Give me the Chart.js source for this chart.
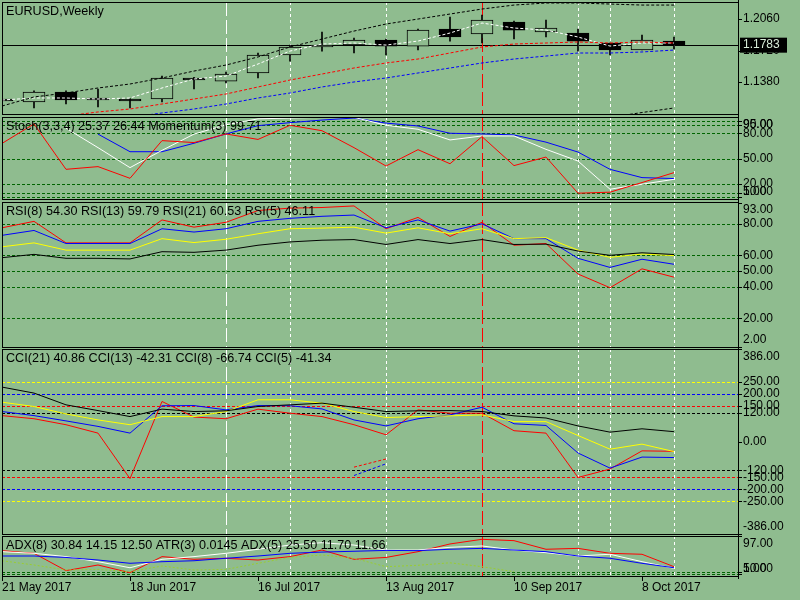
<!DOCTYPE html>
<html>
<head>
<meta charset="utf-8">
<title>EURUSD, Weekly</title>
<script src="https://cdn.jsdelivr.net/npm/chart.js@4.4.0/dist/chart.umd.min.js"></script>
<style>
  body { margin: 0; background: #8fbc8f; width: 800px; height: 600px; overflow: hidden; position: relative; }
  canvas { position: absolute; left: 0; }
</style>
</head>
<body>
<canvas id="mainChart" width="800" height="116" style="top:0px"></canvas>
<canvas id="stochChart" width="800" height="84" style="top:116px"></canvas>
<canvas id="rsiChart" width="800" height="148" style="top:200px"></canvas>
<canvas id="cciChart" width="800" height="187" style="top:348px"></canvas>
<canvas id="adxChart" width="800" height="65" style="top:535px"></canvas>
<script>
const BG = '#8fbc8f';
const FONT = '12px "Liberation Sans", Arial, sans-serif';
const TITLE_FONT = '12.6px "Liberation Sans", Arial, sans-serif';

// weekly bars (last two weeks are empty space on the right)
const weeks = ['21 May 2017', '28 May 2017', '4 Jun 2017', '11 Jun 2017', '18 Jun 2017', '25 Jun 2017',
  '2 Jul 2017', '9 Jul 2017', '16 Jul 2017', '23 Jul 2017', '30 Jul 2017', '6 Aug 2017', '13 Aug 2017',
  '20 Aug 2017', '27 Aug 2017', '3 Sep 2017', '10 Sep 2017', '17 Sep 2017', '24 Sep 2017', '1 Oct 2017',
  '8 Oct 2017', '15 Oct 2017', '22 Oct 2017', '29 Oct 2017'];

// EURUSD candles
const openP  = [1.1196, 1.1164, 1.1272, 1.1207, 1.1196, 1.1196, 1.1423, 1.1390, 1.1477, 1.1671, 1.1758,
  1.1779, 1.1833, 1.1768, 1.1952, 1.1898, 1.2028, 1.1920, 1.1909, 1.1801, 1.1725, 1.1822];
const highP  = [1.1200, 1.1283, 1.1283, 1.1304, 1.1200, 1.1444, 1.1430, 1.1488, 1.1693, 1.1779, 1.1920,
  1.1855, 1.1844, 1.1952, 1.2082, 1.2103, 1.2038, 1.2049, 1.1952, 1.1801, 1.1887, 1.1866];
const lowP   = [1.1170, 1.1099, 1.1142, 1.1110, 1.1099, 1.1164, 1.1304, 1.1369, 1.1423, 1.1606, 1.1714,
  1.1693, 1.1671, 1.1725, 1.1822, 1.1801, 1.1844, 1.1866, 1.1714, 1.1671, 1.1725, 1.1736];
const closeP = [1.1174, 1.1272, 1.1185, 1.1185, 1.1174, 1.1423, 1.1401, 1.1466, 1.1671, 1.1758, 1.1779,
  1.1833, 1.1768, 1.1941, 1.1866, 1.2049, 1.1941, 1.1963, 1.1822, 1.1725, 1.1833, 1.1783];
const lastClose = 1.1783;

// moving averages / envelopes on the price panel
const upperBand = [1.1120, 1.1218, 1.1261, 1.1315, 1.1358, 1.1423, 1.1498, 1.1563, 1.1650, 1.1758, 1.1844,
  1.1930, 1.2006, 1.2060, 1.2114, 1.2168, 1.2211, 1.2233, 1.2233, 1.2222, 1.2211, 1.2211];
const maWhite = [1.1185, 1.1207, 1.1207, 1.1196, 1.1207, 1.1315, 1.1412, 1.1444, 1.1574, 1.1714, 1.1790,
  1.1801, 1.1779, 1.1822, 1.1909, 1.2017, 1.1963, 1.1941, 1.1866, 1.1768, 1.1801, 1.1801];
const maRed = [null, null, 1.1012, 1.1056, 1.1088, 1.1142, 1.1196, 1.1250, 1.1326, 1.1401, 1.1466,
  1.1531, 1.1585, 1.1628, 1.1693, 1.1758, 1.1790, 1.1801, 1.1812, 1.1801, 1.1812, 1.1801];
const maBlue = [null, null, null, null, 1.0998, 1.1045, 1.1088, 1.1142, 1.1207, 1.1261, 1.1326,
  1.1380, 1.1423, 1.1477, 1.1531, 1.1585, 1.1628, 1.1660, 1.1693, 1.1693, 1.1704, 1.1725];
const lowerBand = [null, null, null, null, null, null, null, null, null, null, null,
  null, null, null, null, null, null, null, null, 1.0998, 1.1050, 1.1099];

// Stochastic / Momentum
const stochMain = [null, null, null, 79, 58.2, 58.2, 68.2, 79.2, 89, 92.5, 95.6, 98, 92, 88.6, 80, 79.2,
  78, 69.5, 57.8, 37.4, 27.6, 26.5];
const stochSignal = [null, null, 86, 63, 39.4, 59.8, 79, 90, 97, 98, 98.8, 98.8, 89.5, 84.7, 72.1, 76.8,
  76.8, 61, 47.2, 13.9, 19.8, 25.6];
const momentum = [68, 91, 37.4, 40.6, 26.8, 71.3, 69, 79.2, 72.7, 89.4, 83, 63, 41.3, 60.6, 44, 76,
  41.8, 51.9, 9.2, 10.4, 21.8, 33.5];

// RSI
const rsi5  = [77.5, 81.6, 67.9, 67.9, 67.9, 82.5, 77.9, 81, 88.5, 90, 90.4, 91.4, 76.9, 84.1, 72, 81,
  66.4, 67.5, 48.1, 39.4, 51.4, 46.1];
const rsi8  = [72.7, 75.8, 67.5, 67.5, 67.5, 76.9, 74.8, 76.9, 81.6, 83.5, 84.8, 85.6, 77.5, 82.5, 75.4, 80,
  70.6, 70.6, 58.1, 52.3, 57.5, 54.3];
const rsi13 = [65.4, 67.9, 63.3, 63.3, 63.3, 70.6, 68.1, 70.2, 73.7, 76.9, 77.3, 77.9, 74.1, 77.5, 73.7, 76.9,
  70.6, 71.2, 63.3, 58.7, 60.8, 59.8];
const rsi21 = [58.5, 60.6, 58.1, 58.1, 57.7, 62.3, 61.9, 63.3, 66.4, 68.5, 69.6, 70, 66.9, 70, 67.5, 70,
  66.9, 67.1, 62.7, 60, 61.6, 60.5];

// CCI
const cci21 = [227, 202, 153, 129, 104, 135, 125, 128, 146, 153, 160, 143, 125, 128, 129, 125,
  107, 98, 65, 39, 53, 41];
const cci13 = [164, 146, 115, 90, 70, 104, 104, 125, 174, 174, 160, 125, 100, 104, 107, 111,
  83, 83, 25, -32, -11, -42];
const cci8  = [125, 108, 86, 63, 35, 149, 150, 132, 150, 149, 136, 90, 65, 95, 111, 143,
  74, 67, -48, -111, -65, -67];
const cci5  = [108, 95, 70, 35, -155, 167, 102, 95, 135, 118, 104, 70, 28, 132, 118, 118,
  45, 35, -150, -115, -39, -41];
const cciTrendRed  = [null, null, null, null, null, null, null, null, null, null, null, -107, -73];
const cciTrendBlue = [null, null, null, null, null, null, null, null, null, null, null, -142, -93];

// ADX / ATR
const adxRed   = [61.5, 55, 13, 26.7, 8, 47, 40.5, 43, 38.8, 47, 63, 40.5, 45, 59, 77.7, 89,
  85.7, 64.8, 67, 55, 52.7, 22.6];
const adxWhite = [59, 55, 47, 34.7, 20, 40.5, 47, 55, 64.8, 75, 80.8, 75, 63, 63, 69.6, 72.8,
  63, 56.6, 48.5, 52.7, 34.7, 18.7];
const adxBlue  = [48.5, 48.5, 45, 38.8, 30.8, 34.7, 37, 43, 48.5, 55, 58, 60, 62, 61.5, 64.8, 67,
  63, 59, 48.5, 43, 30.8, 20];
const atrLine  = [37, 26.7, 14.6, 16, 10.4, 24.3, 14.6, 16, 30.8, 45, 51, 43, 22.6, 26, 32, 22.6, 10.4];

// axis labels and level lines
const priceTicks = [1.2060, 1.1720, 1.1380];
const stochTicks = [95, 90, 80, 50, 20, 10, 5];
const stochLevels = [95, 90, 80, 50, 20, 10, 5];
const rsiTicks = [93, 80, 60, 50, 40, 20, 2];
const rsiLevels = [80, 60, 50, 40, 20];
const cciTicks = [386, 250, 200, 150, 120, 0, -120, -150, -200, -250, -386];
const cciLevels = [250, 200, 150, 120, -120, -150, -200, -250];
const cciLevelColors = ['#ffff00', '#0000ff', '#ff0000', '#000000', '#000000', '#ff0000', '#0000ff', '#ffff00'];
const adxTicks = [97, 10, 5];
const adxLevels = [10, 5];

// vertical marker lines (bar index)
const longWhiteWeeks = [7];
const shortWhiteWeeks = [9, 12, 18, 19, 21];
const redWeeks = [15];

const panelDecor = {
  id: 'panelDecor',
  beforeDatasetsDraw(chart, args, o) {
    const { ctx, chartArea: a, scales: { x, y } } = chart;
    ctx.save();
    ctx.beginPath();
    ctx.rect(a.left, a.top, a.right - a.left, a.bottom - a.top);
    ctx.clip();
    ctx.lineWidth = 1;
    (o.levels || []).forEach((v, i) => {
      const py = Math.round(y.getPixelForValue(v)) + 0.5;
      ctx.strokeStyle = o.levelColors ? o.levelColors[i] : '#006400';
      ctx.setLineDash([3, 2]);
      ctx.beginPath(); ctx.moveTo(a.left, py); ctx.lineTo(a.right, py); ctx.stroke();
    });
    if (o.tag != null) {
      const py = Math.round(y.getPixelForValue(o.tag)) + 0.5;
      ctx.strokeStyle = '#000'; ctx.setLineDash([]);
      ctx.beginPath(); ctx.moveTo(a.left, py); ctx.lineTo(a.right, py); ctx.stroke();
    }
    const vl = (i, color, dash) => {
      const px = Math.round(x.getPixelForValue(i)) + 0.5;
      ctx.strokeStyle = color; ctx.setLineDash(dash);
      ctx.beginPath(); ctx.moveTo(px, a.top); ctx.lineTo(px, a.bottom); ctx.stroke();
    };
    longWhiteWeeks.forEach(i => vl(i, '#ffffff', [14, 4]));
    shortWhiteWeeks.forEach(i => vl(i, '#ffffff', [3, 3]));
    redWeeks.forEach(i => vl(i, '#ff0000', [14, 4]));
    ctx.restore();
  },
  afterDraw(chart, args, o) {
    const { ctx, chartArea: a, scales: { x, y } } = chart;
    ctx.save();
    ctx.lineWidth = 1; ctx.strokeStyle = '#000'; ctx.setLineDash([]);
    ctx.strokeRect(a.left + 0.5, a.top + 0.5, a.right - a.left, a.bottom - a.top);
    ctx.beginPath();
    ctx.moveTo(a.right + 0.5, 0);
    ctx.lineTo(a.right + 0.5, o.xLabels ? a.bottom + 3 : chart.height);
    ctx.stroke();

    ctx.font = FONT; ctx.textBaseline = 'middle'; ctx.textAlign = 'left'; ctx.fillStyle = '#000';
    o.ticks.forEach(t => {
      const py = y.getPixelForValue(t);
      const ry = Math.round(py) + 0.5;
      ctx.beginPath(); ctx.moveTo(a.right, ry); ctx.lineTo(a.right + 4, ry); ctx.stroke();
      const ty = Math.min(Math.max(py, a.top + 7.5), a.bottom - 7.5);
      ctx.fillText(t.toFixed(o.decimals), a.right + 5, ty);
    });
    if (o.tag != null) {
      const py = y.getPixelForValue(o.tag);
      ctx.fillStyle = '#000';
      ctx.fillRect(a.right + 2, py - 7, 47, 15);
      ctx.fillStyle = '#d8ecd8';
      ctx.fillText(o.tag.toFixed(4), a.right + 5, py + 0.5);
      ctx.fillStyle = '#000';
    }

    if (o.xLabels) {
      for (let i = 0; i < closeP.length; i += 4) {
        const px = Math.round(x.getPixelForValue(i)) + 0.5;
        ctx.beginPath(); ctx.moveTo(px, a.bottom); ctx.lineTo(px, a.bottom + 5); ctx.stroke();
        ctx.fillText(weeks[i], px - 0.5, a.bottom + 12);
      }
    }
    ctx.font = TITLE_FONT;
    ctx.fillText(o.title, 6, a.top + 10);
    ctx.restore();
  }
};

function line(data, color, dash) {
  return {
    type: 'line', data, borderColor: color, borderWidth: 1, borderDash: dash || [],
    pointRadius: 0, fill: false, spanGaps: false, tension: 0, order: 0
  };
}

function makeChart(id, datasets, min, max, pad, decor) {
  return new Chart(document.getElementById(id), {
    type: 'line',
    data: { labels: weeks, datasets },
    options: {
      responsive: false,
      animation: false,
      layout: { padding: { left: 2, right: 62, top: pad[0], bottom: pad[1] } },
      scales: {
        x: { type: 'category', offset: false, display: false },
        y: { display: false, min, max }
      },
      plugins: { legend: { display: false }, tooltip: { enabled: false }, panelDecor: decor }
    },
    plugins: [panelDecor]
  });
}

makeChart('mainChart', [
  line(upperBand, '#000000', [3, 2]),
  line(lowerBand, '#000000', [3, 2]),
  line(maRed, '#ff0000', [3, 2]),
  line(maBlue, '#0000ff', [3, 2]),
  line(maWhite, '#ffffff', [3, 2]),
  {
    type: 'bar', data: openP.map((o, i) => [o, closeP[i]]),
    backgroundColor: openP.map((o, i) => closeP[i] >= o ? BG : '#000000'),
    borderColor: '#000000', borderWidth: 1, borderSkipped: false,
    barThickness: 22, grouped: false, order: 1
  },
  {
    type: 'bar', data: lowP.map((l, i) => [l, highP[i]]),
    backgroundColor: '#000000', barThickness: 1, grouped: false, order: 2
  }
], 1.1034, 1.2244, [2, 2], { title: 'EURUSD,Weekly', ticks: priceTicks, decimals: 4, tag: lastClose });

makeChart('stochChart', [
  line(momentum, '#ff0000'),
  line(stochSignal, '#ffffff'),
  line(stochMain, '#0000ff')
], 2.35, 99.2, [1, 1], {
  title: 'Stoch(3,3,4) 25.37 26.44 Momentum(3) 99.71', ticks: stochTicks, decimals: 2, levels: stochLevels
});

makeChart('rsiChart', [
  line(rsi21, '#000000'),
  line(rsi13, '#ffff00'),
  line(rsi8, '#0000ff'),
  line(rsi5, '#ff0000')
], 1.7, 93.9, [2, 1], {
  title: 'RSI(8) 54.30 RSI(13) 59.79 RSI(21) 60.53 RSI(5) 46.11', ticks: rsiTicks, decimals: 2, levels: rsiLevels
});

makeChart('cciChart', [
  line(cci21, '#000000'),
  line(cci13, '#ffff00'),
  line(cci8, '#0000ff'),
  line(cci5, '#ff0000'),
  line(cciTrendRed, '#ff0000', [3, 2]),
  line(cciTrendBlue, '#0000ff', [3, 2])
], -386, 386, [1, 1], {
  title: 'CCI(21) 40.86 CCI(13) -42.31 CCI(8) -66.74 CCI(5) -41.34', ticks: cciTicks, decimals: 2,
  levels: cciLevels, levelColors: cciLevelColors
});

makeChart('adxChart', [
  line(atrLine, '#9acd32', [2, 2]),
  line(adxBlue, '#0000ff'),
  line(adxWhite, '#ffffff'),
  line(adxRed, '#ff0000')
], 0, 97, [1, 24], {
  title: 'ADX(8) 30.84 14.15 12.50 ATR(3) 0.0145 ADX(5) 25.50 11.70 11.66', ticks: adxTicks, decimals: 2,
  levels: adxLevels, xLabels: true
});
</script>
</body>
</html>
